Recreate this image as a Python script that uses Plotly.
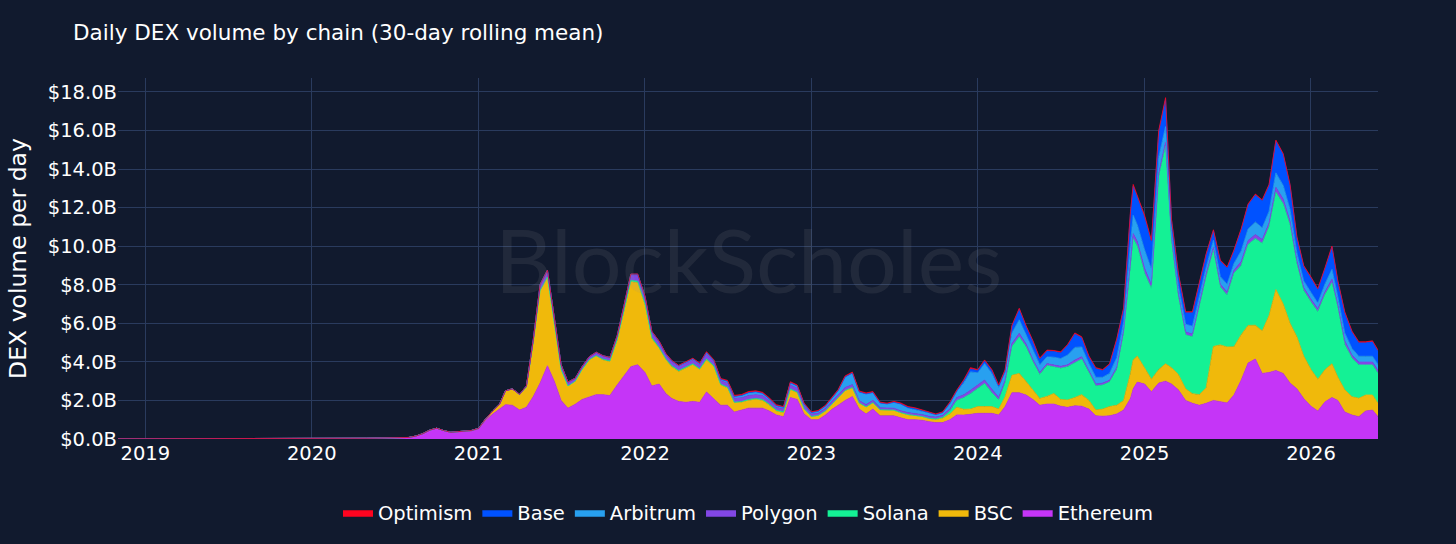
import plotly.graph_objects as go


def half_months(year, first=1, last=12):
    return [f"{year}-{m:02d}-{d}" for m in range(first, last + 1) for d in ("01", "16")]


dates = (
    ["2018-11-01", "2019-01-01", "2019-04-01", "2019-07-01", "2019-10-01",
     "2020-01-01", "2020-03-01", "2020-05-01", "2020-06-01"]
    + half_months(2020, 7)
    + half_months(2021) + half_months(2022) + half_months(2023)
    + half_months(2024)[:23] + ["2024-12-07", "2024-12-16"]
    + half_months(2025)
    + half_months(2026, 1, 5) + ["2026-05-28"]
)

# values in $B per day, one line per year block
ethereum = (
    [0.01, 0.01, 0.015, 0.02, 0.02, 0.02, 0.03, 0.04, 0.05]
    + [0.06, 0.07, 0.08, 0.15, 0.28, 0.45, 0.55, 0.42, 0.33, 0.35, 0.37, 0.4]
    + [0.5, 0.95, 1.3, 1.55, 1.78, 1.75, 1.5, 1.65, 2.2, 2.9, 3.8, 3.0,
       2.0, 1.6, 1.8, 2.05, 2.2, 2.3, 2.3, 2.25, 2.8, 3.3, 3.75, 3.85]
    + [3.45, 2.75, 2.85, 2.35, 2.1, 1.95, 1.9, 1.95, 1.9, 2.44, 2.1, 1.75,
       1.75, 1.4, 1.5, 1.6, 1.6, 1.6, 1.45, 1.25, 1.15, 2.15, 2.05, 1.3]
    + [1.0, 1.0, 1.25, 1.55, 1.75, 2.0, 2.2, 1.55, 1.3, 1.55, 1.2, 1.2,
       1.2, 1.1, 1.0, 1.0, 0.97, 0.9, 0.85, 0.85, 1.0, 1.25, 1.24, 1.28]
    + [1.33, 1.33, 1.33, 1.25, 1.68, 2.4, 2.4, 2.28, 2.05, 1.75, 1.81, 1.81,
       1.7, 1.64, 1.72, 1.7, 1.55, 1.2, 1.18, 1.2, 1.3, 1.5, 2.1, 2.6, 2.95]
    + [2.85, 2.45, 2.9, 3.0, 2.85, 2.55, 2.0, 1.85, 1.75, 1.85, 2.0, 1.93,
       1.87, 2.28, 3.06, 3.94, 4.15, 3.4, 3.45, 3.55, 3.4, 2.9, 2.6, 2.1]
    + [1.7, 1.45, 1.93, 2.15, 2.0, 1.4, 1.24, 1.16, 1.45, 1.5, 1.16]
)

bsc = (
    [0] * 9
    + [0, 0, 0, 0, 0, 0.01, 0.01, 0.02, 0.02, 0.03, 0.03, 0.04]
    + [0.05, 0.08, 0.15, 0.25, 0.72, 0.85, 0.8, 1.05, 2.8, 4.8, 4.6, 3.0,
       1.6, 1.15, 1.2, 1.55, 1.9, 2.0, 1.8, 1.75, 2.3, 3.3, 4.4, 4.25]
    + [3.5, 2.45, 1.85, 1.75, 1.65, 1.55, 1.8, 1.9, 1.7, 1.66, 1.65, 1.05,
       0.9, 0.47, 0.4, 0.4, 0.45, 0.4, 0.3, 0.2, 0.2, 0.4, 0.35, 0.25]
    + [0.15, 0.2, 0.2, 0.25, 0.35, 0.5, 0.45, 0.3, 0.35, 0.32, 0.3, 0.3,
       0.28, 0.25, 0.25, 0.2, 0.18, 0.15, 0.15, 0.22, 0.3, 0.4, 0.3, 0.27]
    + [0.35, 0.35, 0.35, 0.3, 0.52, 0.9, 1.0, 0.7, 0.5, 0.35, 0.4, 0.55,
       0.35, 0.38, 0.43, 0.6, 0.45, 0.3, 0.37, 0.48, 0.45, 0.5, 1.3, 1.5, 1.35]
    + [0.85, 0.65, 0.7, 0.9, 0.85, 0.8, 0.6, 0.5, 0.55, 0.8, 2.8, 2.95,
       2.9, 2.5, 2.35, 1.95, 1.75, 2.2, 2.95, 4.2, 3.6, 3.1, 2.7, 2.2]
    + [1.9, 1.65, 1.67, 1.75, 1.2, 1.15, 0.95, 0.95, 0.83, 0.78, 0.69]
)

solana = (
    [0] * 9
    + [0] * 12
    + [0] * 16 + [0.02, 0.03, 0.04, 0.05, 0.06, 0.07, 0.08, 0.08]
    + [0.08, 0.07, 0.06, 0.05, 0.05, 0.05, 0.05, 0.05, 0.05, 0.06, 0.05, 0.04,
       0.04, 0.04, 0.04, 0.05, 0.05, 0.05, 0.05, 0.05, 0.06, 0.05, 0.03, 0.02]
    + [0.02] * 17 + [0.03, 0.04, 0.06, 0.15, 0.35, 0.6, 0.8]
    + [0.95, 1.2, 0.72, 0.47, 0.7, 1.5, 1.9, 1.8, 1.45, 1.25, 1.6, 1.38,
       1.62, 1.73, 1.8, 1.85, 1.45, 1.25, 1.25, 1.27, 1.85, 3.5, 5.5, 6.3, 5.7]
    + [4.9, 4.7, 10.0, 11.3, 6.6, 4.05, 2.8, 2.95, 4.55, 5.75, 5.0, 3.0,
       2.7, 3.82, 3.6, 4.2, 4.5, 4.55, 4.6, 5.05, 5.2, 5.1, 3.8, 3.4]
    + [3.5, 3.5, 3.9, 4.2, 3.6, 2.35, 2.0, 1.73, 1.56, 1.56, 1.56]
)

polygon = (
    [0] * 9
    + [0] * 12
    + [0] * 6 + [0.02, 0.05, 0.15, 0.3, 0.35, 0.35, 0.25, 0.2, 0.15, 0.15,
                 0.15, 0.15, 0.15, 0.15, 0.15, 0.2, 0.25, 0.3]
    + [0.3, 0.25, 0.25, 0.2, 0.2, 0.2, 0.2, 0.2, 0.2, 0.25, 0.2, 0.2,
       0.2, 0.2, 0.2, 0.2, 0.2, 0.2, 0.18, 0.15, 0.15, 0.2, 0.2, 0.15]
    + [0.12, 0.12, 0.12, 0.15, 0.15, 0.15, 0.15, 0.12, 0.12, 0.12, 0.1, 0.1,
       0.1, 0.1, 0.1, 0.1, 0.1, 0.1, 0.1, 0.1, 0.12, 0.15, 0.15, 0.18]
    + [0.15, 0.18, 0.18, 0.15, 0.15, 0.15, 0.18, 0.15, 0.12, 0.1, 0.1, 0.1,
       0.1, 0.1, 0.15, 0.12, 0.1, 0.1, 0.1, 0.1, 0.12, 0.12, 0.25, 0.25, 0.25]
    + [0.25, 0.2, 0.2, 0.2, 0.15, 0.15, 0.15, 0.15, 0.15, 0.15, 0.15, 0.15,
       0.15, 0.15, 0.2, 0.2, 0.2, 0.2, 0.2, 0.25, 0.25, 0.2, 0.15, 0.15]
    + [0.15, 0.15, 0.15, 0.2, 0.15, 0.2, 0.15, 0.15, 0.15, 0.15, 0.15]
)

arbitrum = (
    [0] * 9
    + [0] * 12
    + [0] * 17 + [0.02, 0.03, 0.03, 0.04, 0.05, 0.06, 0.06]
    + [0.06, 0.05, 0.05, 0.05, 0.05, 0.05, 0.05, 0.06, 0.06, 0.08, 0.07, 0.06,
       0.1, 0.1, 0.12, 0.15, 0.15, 0.12, 0.1, 0.08, 0.08, 0.12, 0.12, 0.1]
    + [0.08, 0.1, 0.12, 0.15, 0.25, 0.55, 0.6, 0.45, 0.55, 0.4, 0.25, 0.2,
       0.3, 0.35, 0.22, 0.2, 0.18, 0.17, 0.1, 0.12, 0.25, 0.3, 0.62, 0.95]
    + [0.65, 0.85, 0.82, 0.5, 0.4, 0.55, 0.7, 0.5, 0.5, 0.4, 0.35, 0.4,
       0.4, 0.5, 0.65, 0.5, 0.35, 0.35, 0.3, 0.35, 0.5, 0.45, 1.0, 0.95, 0.85]
    + [0.95, 0.8, 0.8, 0.8, 0.35, 0.4, 0.4, 0.4, 0.4, 0.35, 0.35, 0.4,
       0.4, 0.35, 0.55, 0.6, 0.65, 0.6, 0.6, 0.75, 0.7, 0.6, 0.4, 0.35]
    + [0.35, 0.3, 0.4, 0.5, 0.4, 0.4, 0.35, 0.3, 0.3, 0.3, 0.3]
)

base = (
    [0] * 9
    + [0] * 12
    + [0] * 24
    + [0] * 24
    + [0] * 14 + [0.05, 0.06, 0.04, 0.03, 0.03, 0.03, 0.06, 0.05, 0.1, 0.15]
    + [0.12, 0.14, 0.15, 0.08, 0.1, 0.35, 0.55, 0.4, 0.43, 0.3, 0.3, 0.3,
       0.3, 0.5, 0.7, 0.48, 0.35, 0.45, 0.35, 0.45, 0.93, 0.68, 1.55, 1.5, 1.45]
    + [1.7, 1.4, 1.3, 1.4, 0.55, 0.6, 0.6, 0.7, 0.65, 0.65, 0.5, 0.8,
       0.85, 0.65, 1.1, 1.25, 1.4, 1.4, 1.35, 1.65, 1.6, 1.25, 0.8, 0.75]
    + [0.75, 0.7, 0.8, 1.15, 0.8, 1.05, 0.85, 0.7, 0.7, 0.75, 0.7]
)

optimism = (
    [0] * 9
    + [0] * 12
    + [0] * 22 + [0.01, 0.02]
    + [0.02, 0.02, 0.02, 0.02, 0.02, 0.02, 0.02, 0.03, 0.03, 0.04, 0.04, 0.04,
       0.05, 0.05, 0.05, 0.06, 0.05, 0.05, 0.05, 0.05, 0.04, 0.05, 0.05, 0.04]
    + [0.04, 0.04, 0.04, 0.05, 0.05, 0.05, 0.05, 0.05, 0.05, 0.05, 0.04, 0.04,
       0.05, 0.05, 0.04, 0.04, 0.03, 0.03, 0.03, 0.03, 0.04, 0.04, 0.05, 0.07]
    + [0.05] * 22 + [0.1, 0.1, 0.1]
    + [0.1, 0.1, 0.1, 0.1] + [0.05] * 20
    + [0.05] * 11
)

chains = ["Ethereum", "BSC", "Solana", "Polygon", "Arbitrum", "Base", "Optimism"]
series = [ethereum, bsc, solana, polygon, arbitrum, base, optimism]
colors = ["#c535f7", "#f0b90b", "#14f195", "#8247e5", "#28a0f0", "#0052ff", "#ff0420"]

for name, vals in zip(chains, series):
    assert len(vals) == len(dates), (name, len(vals), len(dates))

bg = "#111a2e"
grid = "#2a3b5e"

fig = go.Figure()
for name, vals, col in zip(chains, series, colors):
    fig.add_trace(go.Scatter(
        x=dates, y=vals, name=name, mode="lines",
        stackgroup="one", line=dict(color=col, width=0.8),
        fillcolor=col,
    ))

fig.update_layout(
    width=1456, height=544,
    paper_bgcolor=bg, plot_bgcolor=bg,
    font=dict(family="DejaVu Sans", color="#ffffff", size=19.5),
    title=dict(text="Daily DEX volume by chain (30-day rolling mean)",
               x=73 / 1456, xanchor="left", y=1 - 32 / 544, yanchor="middle",
               font=dict(size=21.5)),
    margin=dict(l=118, r=78, t=78, b=105),
    showlegend=True,
    legend=dict(orientation="h", x=0.5, xanchor="center", y=-0.205, yanchor="middle",
                traceorder="reversed", font=dict(size=19.5), bgcolor="rgba(0,0,0,0)"),
    xaxis=dict(type="date", range=["2018-11-02", "2026-05-28"], dtick="M12",
               tickformat="%Y", showgrid=True, gridcolor=grid, zeroline=False,
               showline=False, ticks=""),
    yaxis=dict(range=[0, 18.72], dtick=2, tickprefix="$", ticksuffix="B",
               tickformat=".1f", showgrid=True, gridcolor=grid, zeroline=False,
               title=dict(text="DEX volume per day", font=dict(size=23.5), standoff=14)),
)

fig.add_annotation(
    text="BlockScholes", xref="paper", yref="paper", x=0.5, y=0.5,
    showarrow=False, font=dict(family="Lato", size=88, color="rgba(150,150,150,0.13)"),
)

fig.write_html(
    "out.html",
    config={"displayModeBar": False},
    post_script="document.body.style.margin='0';document.body.style.background='#111a2e';",
)
